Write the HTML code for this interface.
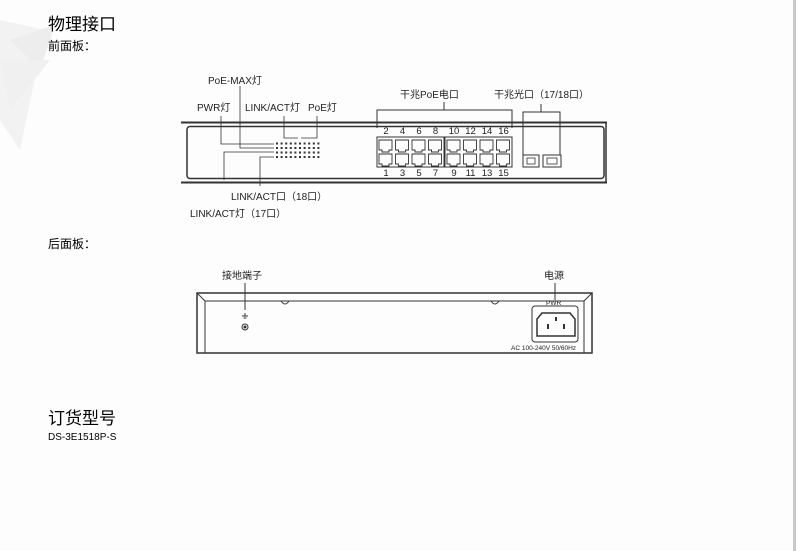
<!DOCTYPE html>
<html><head><meta charset="utf-8"><style>
body{margin:0;width:796px;height:551px;background:#fdfdfd;overflow:hidden;position:relative;font-family:"Liberation Sans","Noto Sans CJK SC",sans-serif}
.t{position:absolute;white-space:nowrap;color:#000}
</style></head><body>
<svg width="796" height="551" style="position:absolute;left:0;top:0">
<polygon points="0,20 45,30 20,150 0,120" fill="#f2f2f2"/>
<polygon points="10,40 55,25 40,70" fill="#ededed"/>
<polygon points="0,60 50,60 10,110" fill="#f0f0f0"/>
<rect x="793" y="0" width="3" height="551" fill="#c8c8c8"/>
<g stroke="#333" fill="none" stroke-width="1">
<line x1="181" y1="122.5" x2="607" y2="122.5" stroke-width="2"/>
<line x1="181" y1="182.5" x2="607" y2="182.5" stroke-width="2"/>
<line x1="606" y1="122" x2="606" y2="183" stroke-width="1.5"/>
<rect x="187" y="126.5" width="417" height="52" rx="3" stroke-width="1.5"/>
<rect x="377" y="137" width="67" height="30"/>
<rect x="445" y="137" width="67" height="30"/>
<polyline points="377,128 377,110 512,110 512,128"/>
<line x1="444" y1="110" x2="444" y2="102"/>
<polyline points="523,155 523,112 560,112 560,155"/>
<line x1="541" y1="112" x2="541" y2="104"/>
<polyline points="221,116 221,144 274,144" stroke-width="0.8"/>
<polyline points="240,86 240,148 274,148" stroke-width="0.8"/>
<polyline points="224,180 224,152 274,152" stroke-width="0.8"/>
<polyline points="260,186 260,157 274,157" stroke-width="0.8"/>
<polyline points="284,116 284,138 298,138" stroke-width="0.8"/>
<polyline points="317,116 317,138 301,138" stroke-width="0.8"/>
<rect x="197" y="293" width="395" height="60" stroke-width="1.5"/>
<polyline points="205,353 205,301 584,301 584,353"/>
<line x1="197" y1="293" x2="205" y2="301"/><line x1="592" y1="293" x2="584" y2="301"/>
<path d="M281,301 q4,6 8,0"/><path d="M491,301 q4,6 8,0"/>
<line x1="245" y1="283" x2="245" y2="310"/>
<line x1="555" y1="283" x2="555" y2="300"/>
<circle cx="245" cy="327" r="3"/>
<rect x="532" y="306" width="46" height="36" rx="3"/>
<path d="M542,313 h28 l5,6 v17 h-38 v-17 z" stroke-width="1.5"/>
</g>
<circle cx="245" cy="327" r="1.5" fill="#333"/>
<path d="M242,316 h6 M243.5,318 h3 M245,313 v3" stroke="#333"/>
<rect x="555" y="317" width="2" height="4" fill="#333"/>
<rect x="547" y="324" width="2" height="5" fill="#333"/>
<rect x="563" y="324" width="2" height="5" fill="#333"/>
<g id="p" stroke="#333" fill="none" stroke-width="0.9"></g>
<g fill="#333" id="leds"></g>
<rect x="523" y="155" width="16" height="12" fill="none" stroke="#333"/>
<rect x="527" y="158" width="8" height="6" fill="none" stroke="#333" stroke-width="0.8"/>
<rect x="543" y="155" width="18" height="12" fill="none" stroke="#333"/>
<rect x="547" y="158" width="10" height="6" fill="none" stroke="#333" stroke-width="0.8"/>
<g font-family="Liberation Sans,Noto Sans CJK SC,sans-serif" font-size="9.5" fill="#222" text-anchor="middle" id="nums"></g>
<g font-family="Liberation Sans,Noto Sans CJK SC,sans-serif" font-size="10" fill="#222">
<text x="208" y="84">PoE-MAX灯</text>
<text x="197" y="111">PWR灯</text>
<text x="245" y="111">LINK/ACT灯</text>
<text x="308" y="111">PoE灯</text>
<text x="400" y="98">干兆PoE电口</text>
<text x="494" y="98">干兆光口（17/18口）</text>
<text x="231" y="200">LINK/ACT口（18口）</text>
<text x="190" y="217">LINK/ACT灯（17口）</text>
<text x="222" y="279">接地端子</text>
<text x="544" y="279">电源</text>
<text x="546" y="305" font-size="6.5">PWR</text>
<text x="511" y="350" font-size="6.5">AC 100-240V 50/60Hz</text>
</g>
</svg>
<div class="t" style="left:48px;top:10px;font-size:17px">物理接口</div>
<div class="t" style="left:48px;top:37px;font-size:12px">前面板：</div>
<div class="t" style="left:48px;top:235px;font-size:12px">后面板：</div>
<div class="t" style="left:48px;top:404px;font-size:17px">订货型号</div>
<div class="t" style="left:48px;top:432px;font-size:10px">DS-3E1518P-S</div>
<script>
var ns="http://www.w3.org/2000/svg",p=document.getElementById('p'),n=document.getElementById('nums'),l=document.getElementById('leds');
var xs=[378,394.5,411,427.5,446,462.5,479,495.5];
xs.forEach(function(x,i){
 [139,153].forEach(function(y,r){
  var e=document.createElementNS(ns,'path');
  e.setAttribute('d','M'+(x+1)+','+(y+1)+'h13v10h-3v2h-7v-2h-3z');p.appendChild(e);
  var t=document.createElementNS(ns,'text');t.setAttribute('x',x+8);t.setAttribute('y',r?176:134);t.textContent=2*i+(r?1:2);n.appendChild(t);
 });
});
for(var r=0;r<4;r++)for(var c=0;c<10;c++){var e=document.createElementNS(ns,'rect');e.setAttribute('x',276+c*4.6);e.setAttribute('y',142.5+r*4.5);e.setAttribute('width',2);e.setAttribute('height',2);l.appendChild(e);}
</script>
</body></html>
